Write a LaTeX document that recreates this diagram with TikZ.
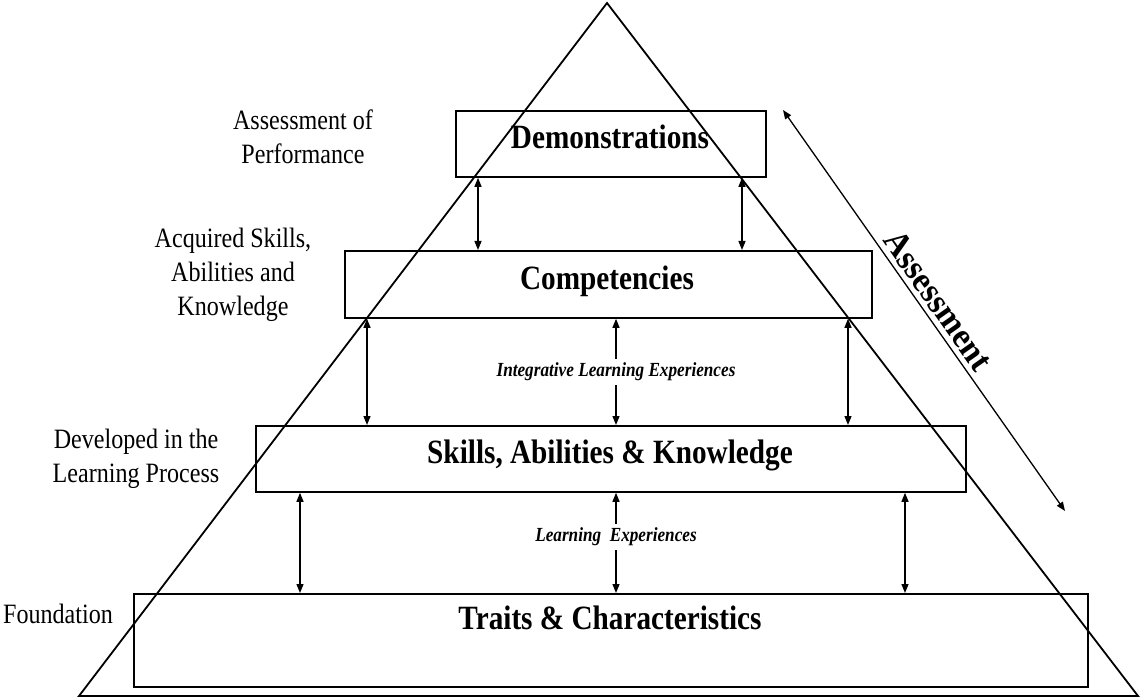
\documentclass[tikz,border=0pt]{standalone}
\usepackage{fontspec}
\setmainfont{Liberation Serif}[FakeStretch=0.86]
\newfontfamily\slopefont{Liberation Serif}[FakeStretch=0.95]
\usetikzlibrary{arrows.meta,%
                positioning}

\begin{document}
\begin{tikzpicture}[x=1pt, y=-1pt,
        box/.style={draw, line width=1.8pt, inner sep=0pt, anchor=north west},
        level/.style={font=\fontsize{34}{40}\selectfont\bfseries},
        side/.style={align=center, font=\fontsize{28}{34}\selectfont},
        route/.style={font=\fontsize{20}{24}\selectfont\bfseries\itshape, fill=white, inner sep=4pt},
        link/.style={{Triangle[length=9pt,width=7pt]}-{Triangle[length=9pt,width=7pt]}, line width=1.3pt}]
        \useasboundingbox (0,0) rectangle (1142,700);
        % pyramid
        \coordinate (apex) at (607,3);
        \coordinate (baseL) at (79,696);
        \coordinate (baseR) at (1138,696);
        \draw[line width=1.8pt] (apex) -- (baseR) -- (baseL) -- cycle;
        % levels
        \node[box, minimum width=310pt, minimum height=66pt] (demo) at (455,110) {};
        \node[box, minimum width=527pt, minimum height=67pt] (comp) at (344,250) {};
        \node[box, minimum width=710pt, minimum height=66pt] (skills) at (255,425) {};
        \node[box, minimum width=954pt, minimum height=93pt] (traits) at (133,593) {};
        \node[level] (demoT) at (610,137) {Demonstrations};
        \node[level] (compT) at (607,281) {Competencies};
        \node[level] (skillsT) at (610,455) {Skills, Abilities \& Knowledge};
        \node[level] (traitsT) at (610,618) {Traits \& Characteristics};
        % side labels
        \node[side] (perf) at (303,137) {Assessment of\\Performance};
        \node[side] (acq) at (233,275) {Acquired Skills,\\Abilities and\\Knowledge};
        \node[side] (dev) at (136,459) {Developed in the\\Learning Process};
        \node[side] (found) at (58,614) {Foundation};
        % links between levels
        \draw[link] (demo.south -| 478,0) -- (comp.north -| 478,0);
        \draw[link] (demo.south -| 742,0) -- (comp.north -| 742,0);
        \draw[link] (comp.south -| 367,0) -- (skills.north -| 367,0);
        \draw[link] (comp.south -| 848,0) -- (skills.north -| 848,0);
        \draw[link] (comp.south -| 616,0) -- node[route] (integ) {Integrative Learning Experiences} (skills.north -| 616,0);
        \draw[link] (skills.south -| 300,0) -- (traits.north -| 300,0);
        \draw[link] (skills.south -| 905,0) -- (traits.north -| 905,0);
        \draw[link] (skills.south -| 616,0) -- node[route, pos=0.44] (learn) {Learning\ \ Experiences} (traits.north -| 616,0);
        % assessment
        \coordinate (asTop) at (783,110);
        \coordinate (asBot) at (1065,511);
        \draw[link] (asTop) -- node[midway, sloped, above, inner sep=5pt, font=\slopefont\fontsize{35}{40}\selectfont\bfseries] (assess) {Assessment} (asBot);
    \end{tikzpicture}
\end{document}
